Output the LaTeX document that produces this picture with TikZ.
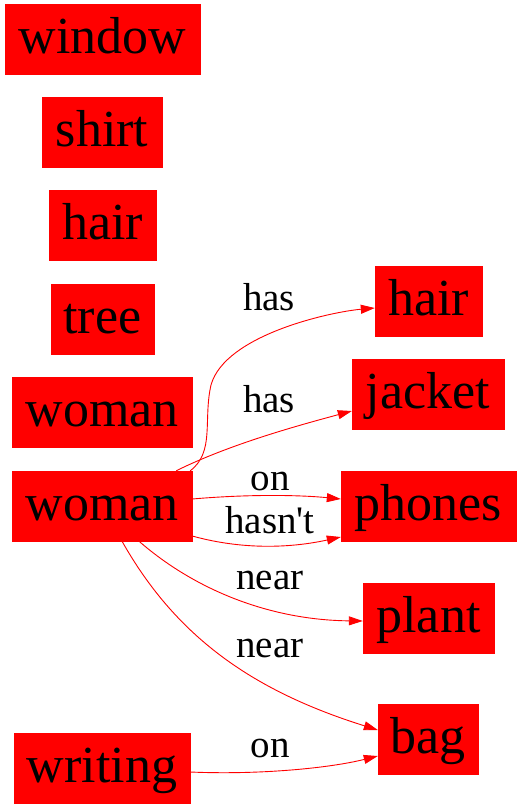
\documentclass[tikz,border=0pt]{standalone}
\usepackage{fontspec}
\setmainfont{Liberation Serif}
\newfontfamily\plainfont{Liberation Serif}
\usetikzlibrary{arrows.meta}
\tikzset{
  obj/.style={fill=red, draw=red, inner sep=0pt, minimum height=70pt,
    text height=37pt, text depth=9pt, font=\fontsize{52}{52}\selectfont},
  lbl/.style={inner sep=0pt, font=\plainfont\fontsize{39}{39}\selectfont, text height=27pt, text depth=1pt},
  edge/.style={draw=red, line width=0.9pt, -{Triangle[length=14pt,width=9pt]}}
}
\begin{document}
\begin{tikzpicture}[x=1pt,y=-1pt]
\useasboundingbox (0,0) rectangle (521,808);
% left column
\node[obj, minimum width=195pt] (window) at (102.5,39.5) {window};
\node[obj, minimum width=120pt] (shirt) at (102,132.5) {shirt};
\node[obj, minimum width=107pt] (hairL) at (102.5,225.5) {hair};
\node[obj, minimum width=103pt] (tree) at (102.5,319.5) {tree};
\node[obj, minimum width=180pt] (w1) at (102,412.5) {woman};
\node[obj, minimum width=180pt] (w2) at (102,506) {woman};
\node[obj, minimum width=176pt] (writing) at (102,768) {writing};
% right column
\node[obj, minimum width=107pt] (hairR) at (428.5,301) {hair};
\node[obj, minimum width=152pt] (jacket) at (428,394) {jacket};
\node[obj, minimum width=175pt] (phones) at (428.5,506.5) {phones};
\node[obj, minimum width=131pt] (plant) at (428.5,618) {plant};
\node[obj, minimum width=100pt] (bag) at (428,739.5) {bag};
% edges
\draw[edge] ([xshift=-2pt]w2.north east) .. controls (215,452) and (203,420) .. (211,385)
  .. controls (225,335) and (330,312) .. ([yshift=-7pt]hairR.west);
\draw[edge] ([xshift=-16pt]w2.north east) .. controls (230,444) and (300,425) .. ([yshift=-17pt]jacket.west);
\draw[edge] ([yshift=7pt]w2.east) .. controls (250,494) and (300,495) .. ([yshift=7.5pt]phones.west);
\draw[edge] ([yshift=-30pt]w2.east) .. controls (250,552) and (300,546) .. ([yshift=-30.5pt]phones.west);
\draw[edge] ([xshift=37pt]w2.south) .. controls (195,590) and (270,620) .. ([yshift=-3pt]plant.west);
\draw[edge] ([xshift=20pt]w2.south) .. controls (175,635) and (250,690) .. ([yshift=9.5pt]bag.west);
\draw[edge] ([yshift=-4pt]writing.east) .. controls (260,775) and (330,768) .. ([yshift=-16.5pt]bag.west);
% edge labels
\node[lbl] (l1) at (269,297) {has};
\node[lbl] (l2) at (269,399) {has};
\node[lbl] (l3) at (270,477) {on};
\node[lbl] (l4) at (270,520) {hasn't};
\node[lbl] (l5) at (270,576) {near};
\node[lbl] (l6) at (270,644) {near};
\node[lbl] (l7) at (270,744) {on};
\end{tikzpicture}
\end{document}
